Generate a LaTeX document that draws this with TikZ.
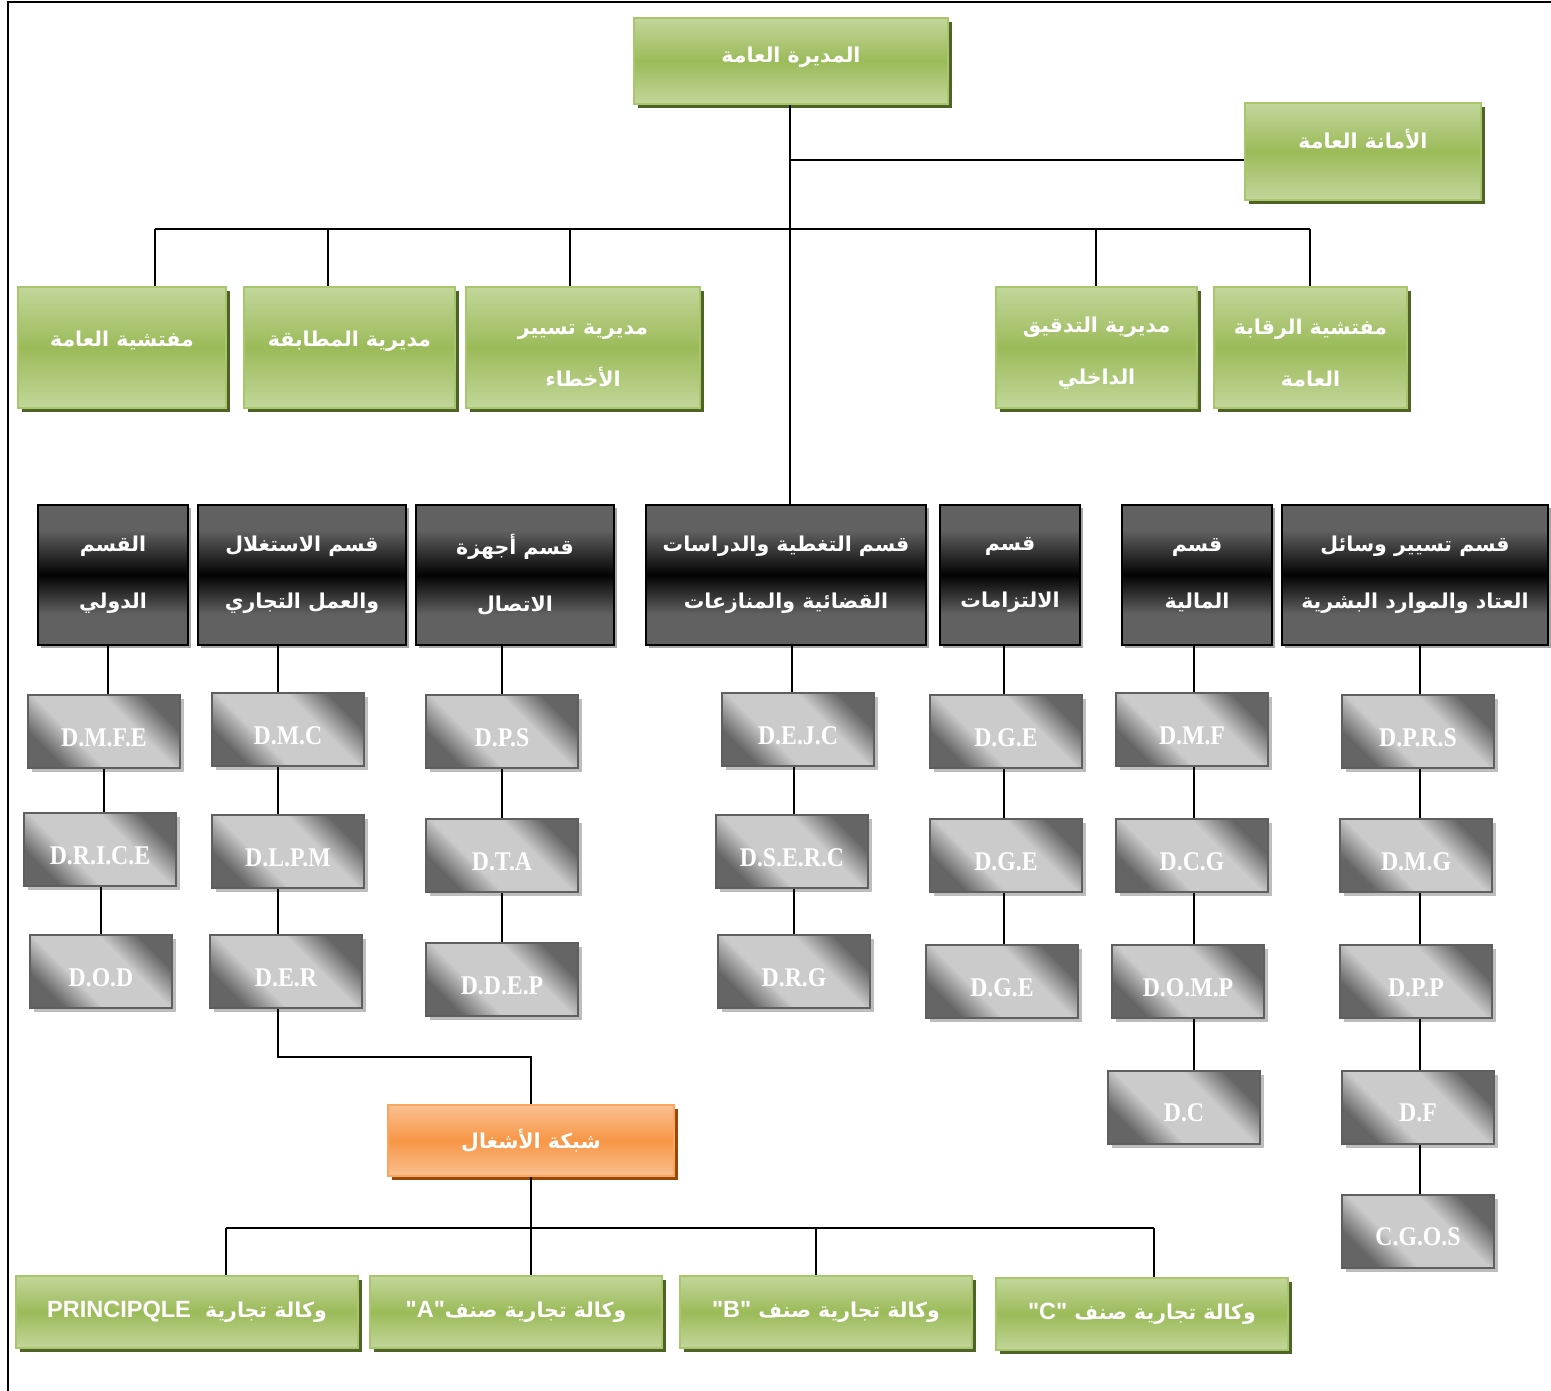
\documentclass[tikz,border=0pt]{standalone}
\usepackage{fontspec}
\usetikzlibrary{shadows}
\TeXXeTstate=1
\newfontfamily\arfont[Script=Arabic]{DejaVu Sans}
\newfontfamily\lsans{Liberation Sans}
\newfontfamily\grfont[FakeStretch=0.88]{Liberation Serif}
\newcommand\artext[1]{{\arfont\bfseries\beginR #1\endR}}
\newcommand\topstrut{\rule{0pt}{27pt}}
\newcommand\latxt[1]{{\lsans\bfseries\fontsize{23.5}{28}\selectfont\beginL #1\endL}}
\definecolor{gLight}{HTML}{C3D69B}
\definecolor{gMid}{HTML}{9BBB59}
\definecolor{gBorder}{HTML}{A8C66C}
\definecolor{gShadow}{HTML}{4F6228}
\definecolor{oLight}{HTML}{FAC090}
\definecolor{oMid}{HTML}{F79646}
\definecolor{oShadow}{HTML}{984807}
\definecolor{dkGrey}{HTML}{616161}
\definecolor{dkBlack}{HTML}{050505}
\definecolor{dkShadow}{HTML}{A6A6A6}
\definecolor{gyDark}{HTML}{656565}
\definecolor{gyLight}{HTML}{CBCBCB}
\definecolor{gyBorder}{HTML}{5F5F5F}
\definecolor{gyShadow}{HTML}{BDBDBD}
\pgfdeclareverticalshading{darkshade}{100bp}{color(0bp)=(dkGrey); color(36bp)=(dkGrey); color(49.6bp)=(dkBlack); color(50.4bp)=(dkBlack); color(66bp)=(dkGrey); color(100bp)=(dkGrey)}
\pgfdeclarehorizontalshading{greyshade}{100bp}{color(0bp)=(gyDark); color(26bp)=(gyDark); color(39bp)=(gyLight); color(61bp)=(gyLight); color(74bp)=(gyDark); color(100bp)=(gyDark)}
\tikzset{
  conn/.style={draw=black, line width=1.6pt},
  greenbox/.style={draw=gBorder, line width=2.2pt, top color=gLight, bottom color=gLight, middle color=gMid,
    general shadow={fill=gShadow, shadow xshift=3.5pt, shadow yshift=-4pt},
    text=white, font=\fontsize{20.5}{52}\selectfont, align=center, inner sep=0pt},
  orangebox/.style={draw=oMid!85!white, line width=2.2pt, top color=oLight, bottom color=oLight, middle color=oMid,
    general shadow={fill=oShadow, shadow xshift=3.5pt, shadow yshift=-4pt},
    text=white, font=\fontsize{20.5}{52}\selectfont, align=center, inner sep=0pt},
  darkbox/.style={draw=black, line width=2pt, shade, shading=darkshade,
    general shadow={fill=dkShadow, shadow xshift=3pt, shadow yshift=-3pt},
    text=white, font=\fontsize{20.5}{57}\selectfont, align=center, inner sep=0pt, minimum height=140pt},
  greybox/.style={draw=gyBorder, line width=2pt, shade, shading=greyshade, shading angle=45,
    general shadow={fill=gyShadow, shadow xshift=4pt, shadow yshift=-4pt},
    text=white, font=\grfont\bfseries\fontsize{27}{30}\selectfont, inner sep=0pt,
    text height=29pt, text depth=0pt,
    minimum width=152pt, minimum height=73pt}
}
\begin{document}
\begin{tikzpicture}[x=1pt,y=-1pt]
\useasboundingbox (0,0) rectangle (1551,1391);
% outer frame
\coordinate (fr1) at (8,1391);
\coordinate (fr2) at (8,2);
\coordinate (fr3) at (1551,2);
\draw[line width=2pt] (fr1) -- (fr2) -- (fr3);

% top level
\node[greenbox, minimum width=314pt, minimum height=86pt, text depth=12pt] (top) at (791,61) {\artext{المديرة العامة}};
\node[greenbox, minimum width=236pt, minimum height=97pt, text depth=26pt] (amana) at (1363,151.5) {\artext{الأمانة العامة}};

% second level
\node[greenbox, minimum width=208pt, minimum height=121pt, text depth=18pt] (g1) at (122,347.5) {\artext{مفتشية العامة}};
\node[greenbox, minimum width=211pt, minimum height=121pt, text depth=18pt] (g2) at (349.5,347.5) {\artext{مديرية المطابقة}};
\node[greenbox, minimum width=234pt, minimum height=121pt] (g3) at (583,347.5) {\topstrut\artext{مديرية تسيير}\\\artext{الأخطاء}};
\node[greenbox, minimum width=201pt, minimum height=121pt] (g4) at (1096.5,347.5) {\topstrut\artext{مديرية التدقيق}\\\artext{الداخلي}};
\node[greenbox, minimum width=193pt, minimum height=121pt] (g5) at (1310.5,347.5) {\topstrut\artext{مفتشية الرقابة}\\\artext{العامة}};

% departments
\node[darkbox, minimum width=150pt] (dk1) at (113,575) {\artext{القسم}\\\artext{الدولي}};
\node[darkbox, minimum width=208pt] (dk2) at (302,575) {\artext{قسم الاستغلال}\\\artext{والعمل التجاري}};
\node[darkbox, minimum width=198pt] (dk3) at (515,575) {\artext{قسم أجهزة}\\\artext{الاتصال}};
\node[darkbox, minimum width=280pt] (dk4) at (786,575) {\artext{قسم التغطية والدراسات}\\\artext{القضائية والمنازعات}};
\node[darkbox, minimum width=140pt] (dk5) at (1010,575) {\artext{قسم}\\\artext{الالتزامات}};
\node[darkbox, minimum width=150pt] (dk6) at (1197,575) {\artext{قسم}\\\artext{المالية}};
\node[darkbox, minimum width=266pt] (dk7) at (1415,575) {\artext{قسم تسيير وسائل}\\\artext{العتاد والموارد البشرية}};

% grey boxes
\node[greybox] (m11) at (104,731.5) {D.M.F.E};
\node[greybox] (m12) at (100,849.5) {D.R.I.C.E};
\node[greybox, minimum width=142pt] (m13) at (101,971.5) {D.O.D};
\node[greybox] (m21) at (288,729.5) {D.M.C};
\node[greybox] (m22) at (288,851.5) {D.L.P.M};
\node[greybox] (m23) at (286,971.5) {D.E.R};
\node[greybox] (m31) at (502,731.5) {D.P.S};
\node[greybox] (m32) at (502,855.5) {D.T.A};
\node[greybox] (m33) at (502,979.5) {D.D.E.P};
\node[greybox] (m41) at (798,729.5) {D.E.J.C};
\node[greybox] (m42) at (792,851.5) {D.S.E.R.C};
\node[greybox] (m43) at (794,971.5) {D.R.G};
\node[greybox] (m51) at (1006,731.5) {D.G.E};
\node[greybox] (m52) at (1006,855.5) {D.G.E};
\node[greybox] (m53) at (1002,981.5) {D.G.E};
\node[greybox] (m61) at (1192,729.5) {D.M.F};
\node[greybox] (m62) at (1192,855.5) {D.C.G};
\node[greybox] (m63) at (1188,981.5) {D.O.M.P};
\node[greybox] (m64) at (1184,1107) {D.C};
\node[greybox] (m71) at (1418,731.5) {D.P.R.S};
\node[greybox] (m72) at (1416,855.5) {D.M.G};
\node[greybox] (m73) at (1416,981.5) {D.P.P};
\node[greybox] (m74) at (1418,1107) {D.F};
\node[greybox] (m75) at (1418,1231) {C.G.O.S};

% works network
\node[orangebox, minimum width=286pt, minimum height=71pt] (net) at (531,1140.5) {\artext{شبكة الأشغال}};
\node[greenbox, minimum width=342pt, minimum height=72pt] (b1) at (187,1312) {{\arfont\bfseries\beginR وكالة تجارية \ \latxt{PRINCIPQLE}\endR}};
\node[greenbox, minimum width=292pt, minimum height=72pt] (b2) at (516,1312) {{\arfont\bfseries\beginR وكالة تجارية صنف\latxt{"A"}\endR}};
\node[greenbox, minimum width=292pt, minimum height=72pt] (b3) at (826,1312) {{\arfont\bfseries\beginR وكالة تجارية صنف \latxt{"B"}\endR}};
\node[greenbox, minimum width=292pt, minimum height=72pt] (b4) at (1142,1314) {{\arfont\bfseries\beginR وكالة تجارية صنف \latxt{"C"}\endR}};

% connector coordinates
\coordinate (trunk) at (790,0);
\coordinate (j1) at (790,160);
\coordinate (b1x) at (155,229);
\coordinate (b2x) at (328,229);
\coordinate (b3x) at (570,229);
\coordinate (b4x) at (1096,229);
\coordinate (b5x) at (1310,229);
\coordinate (c1) at (108,0);
\coordinate (c2) at (278,0);
\coordinate (c3) at (502,0);
\coordinate (c4) at (794,0);
\coordinate (c5) at (1004,0);
\coordinate (c6) at (1194,0);
\coordinate (c7) at (1420,0);
\coordinate (nx) at (531,0);
\coordinate (derbend) at (278,1057);
\coordinate (lb1) at (226,1228);
\coordinate (lb3) at (816,1228);
\coordinate (lb4) at (1154,1228);

% connectors
\draw[conn] (top.south -| trunk) -- (dk4.north -| trunk);
\draw[conn] (j1) -- (j1 -| amana.west);
\draw[conn] (b1x) -- (b5x);
\draw[conn] (b1x) -- (b1x |- g1.north);
\draw[conn] (b2x) -- (b2x |- g2.north);
\draw[conn] (b3x) -- (b3x |- g3.north);
\draw[conn] (b4x) -- (b4x |- g4.north);
\draw[conn] (b5x) -- (b5x |- g5.north);

\draw[conn] (dk1.south -| c1) -- (m11.north -| c1);
\draw[conn] (m11.south -| m11.north) -- (m12.north -| m11.north);
\draw[conn] (m12.south -| m13.north) -- (m13.north);
\draw[conn] (dk2.south -| c2) -- (m21.north -| c2);
\draw[conn] (m21.south -| c2) -- (m22.north -| c2);
\draw[conn] (m22.south -| c2) -- (m23.north -| c2);
\draw[conn] (m23.south -| c2) -- (derbend) -- (derbend -| nx) -- (net.north -| nx);
\draw[conn] (dk3.south -| c3) -- (m31.north -| c3);
\draw[conn] (m31.south -| c3) -- (m32.north -| c3);
\draw[conn] (m32.south -| c3) -- (m33.north -| c3);
\draw[conn] (dk4.south -| m42.north) -- (m41.north -| m42.north);
\draw[conn] (m41.south -| c4) -- (m42.north -| c4);
\draw[conn] (m42.south -| m43.north) -- (m43.north);
\draw[conn] (dk5.south -| c5) -- (m51.north -| c5);
\draw[conn] (m51.south -| c5) -- (m52.north -| c5);
\draw[conn] (m52.south -| c5) -- (m53.north -| c5);
\draw[conn] (dk6.south -| c6) -- (m61.north -| c6);
\draw[conn] (m61.south -| c6) -- (m62.north -| c6);
\draw[conn] (m62.south -| c6) -- (m63.north -| c6);
\draw[conn] (m63.south -| c6) -- (m64.north -| c6);
\draw[conn] (dk7.south -| c7) -- (m71.north -| c7);
\draw[conn] (m71.south -| c7) -- (m72.north -| c7);
\draw[conn] (m72.south -| c7) -- (m73.north -| c7);
\draw[conn] (m73.south -| c7) -- (m74.north -| c7);
\draw[conn] (m74.south -| c7) -- (m75.north -| c7);

\draw[conn] (net.south -| nx) -- (b2.north -| nx);
\draw[conn] (lb1) -- (lb4);
\draw[conn] (lb1) -- (lb1 |- b1.north);
\draw[conn] (lb3) -- (lb3 |- b3.north);
\draw[conn] (lb4) -- (lb4 |- b4.north);
\end{tikzpicture}
\end{document}
